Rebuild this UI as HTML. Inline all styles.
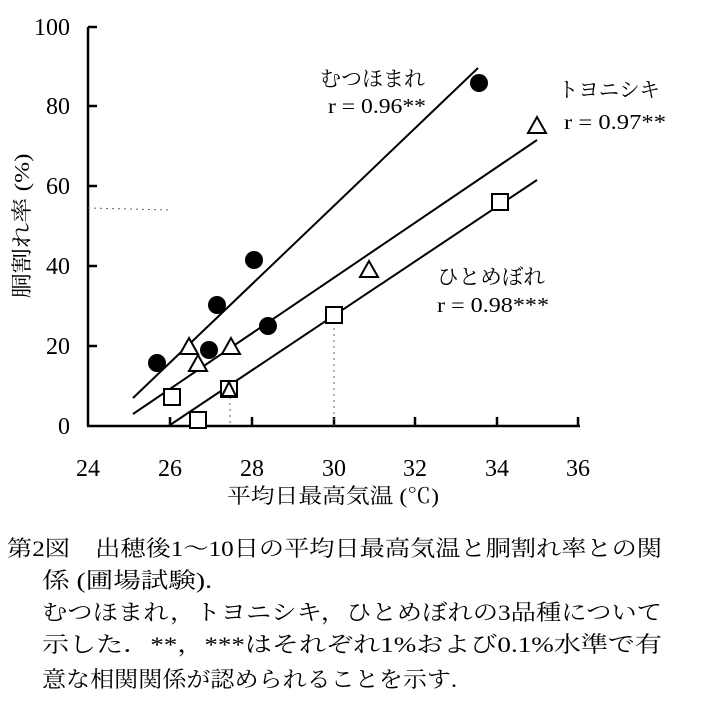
<!DOCTYPE html>
<html><head><meta charset="utf-8"><style>
html,body{margin:0;padding:0;background:#fff;}
svg{display:block;}
text{font-family:"Liberation Serif","Noto Serif CJK SC",serif;fill:#000;}
.j{font-family:"Liberation Serif","Noto Serif CJK JP","Noto Serif CJK SC",serif;}
</style></head><body>
<svg width="702" height="704" viewBox="0 0 702 704" xmlns="http://www.w3.org/2000/svg">
<g stroke="#000" stroke-width="2.5" fill="none">
<line x1="88" y1="27" x2="88" y2="426"/>
<line x1="87" y1="426" x2="580" y2="426"/>
<line x1="88" y1="346" x2="97" y2="346"/>
<line x1="88" y1="266" x2="97" y2="266"/>
<line x1="88" y1="186" x2="97" y2="186"/>
<line x1="88" y1="106" x2="97" y2="106"/>
<line x1="88" y1="27" x2="97" y2="27"/>
<line x1="170" y1="426" x2="170" y2="417"/>
<line x1="252" y1="426" x2="252" y2="417"/>
<line x1="334" y1="426" x2="334" y2="417"/>
<line x1="415" y1="426" x2="415" y2="417"/>
<line x1="497" y1="426" x2="497" y2="417"/>
<line x1="578" y1="426" x2="578" y2="417"/>
</g>
<g stroke="#000" stroke-width="2">
<line x1="133" y1="398" x2="478" y2="68"/>
<line x1="133" y1="414" x2="537" y2="140"/>
<line x1="170" y1="425" x2="537" y2="180"/>
</g>
<g stroke="#666" stroke-width="1" stroke-dasharray="2,4">
<line x1="334" y1="322" x2="334" y2="426"/>
<line x1="230" y1="397" x2="230" y2="426"/>
<line x1="88" y1="208" x2="170" y2="210"/>
</g>
<g fill="#000">
<circle cx="157" cy="363" r="9"/><circle cx="217" cy="305" r="9"/><circle cx="254" cy="260" r="9"/>
<circle cx="209" cy="350" r="9"/><circle cx="268" cy="326" r="9"/><circle cx="479" cy="83" r="9"/>
</g>
<g fill="#fff" stroke="#000" stroke-width="2">
<polygon points="189,338 180,354 198,354"/><polygon points="198,355 189,371 207,371"/>
<polygon points="231,338 222,354 240,354"/><polygon points="369,261 360,277 378,277"/>
<polygon points="537,117 528,133 546,133"/>
<rect x="164" y="389" width="16" height="16"/><rect x="190" y="412" width="16" height="16"/>
<rect x="221" y="381" width="16" height="16"/><rect x="326" y="307" width="16" height="16"/>
<rect x="492" y="194" width="16" height="16"/>
<polygon points="229,382 222,396 236,396"/>
</g>
<g font-size="24" text-anchor="middle">
<text x="88" y="476">24</text><text x="170" y="476">26</text><text x="252" y="476">28</text>
<text x="334" y="476">30</text><text x="415" y="476">32</text><text x="497" y="476">34</text><text x="578" y="476">36</text>
</g>
<g font-size="24" text-anchor="end">
<text x="70" y="434">0</text><text x="70" y="354">20</text><text x="70" y="274">40</text>
<text x="70" y="194">60</text><text x="70" y="114">80</text><text x="70" y="35">100</text>
</g>
<text class="j" x="333" y="503" font-size="21" text-anchor="middle" textLength="212" lengthAdjust="spacingAndGlyphs">平均日最高気温 (℃)</text>
<text class="j" transform="translate(29,226) rotate(-90)" font-size="21" text-anchor="middle" textLength="145" lengthAdjust="spacingAndGlyphs">胴割れ率 (%)</text>
<g font-size="21">
<text class="j" x="320" y="86" textLength="105" lengthAdjust="spacingAndGlyphs">むつほまれ</text>
<text x="328" y="113" textLength="98" lengthAdjust="spacingAndGlyphs">r = 0.96**</text>
<text class="j" x="558" y="97" textLength="102" lengthAdjust="spacingAndGlyphs">トヨニシキ</text>
<text x="564" y="129" textLength="102" lengthAdjust="spacingAndGlyphs">r = 0.97**</text>
<text class="j" x="437" y="284" textLength="108" lengthAdjust="spacingAndGlyphs">ひとめぼれ</text>
<text x="437" y="312" textLength="112" lengthAdjust="spacingAndGlyphs">r = 0.98***</text>
</g>
<g class="j" font-size="22">
<text class="j" x="7" y="556" textLength="655" lengthAdjust="spacingAndGlyphs">第2図　出穂後1～10日の平均日最高気温と胴割れ率との関</text>
<text class="j" x="42" y="588" textLength="170" lengthAdjust="spacingAndGlyphs">係 (圃場試験).</text>
<text class="j" x="42" y="620" textLength="620" lengthAdjust="spacingAndGlyphs">むつほまれ，トヨニシキ，ひとめぼれの3品種について</text>
<text class="j" x="42" y="652" textLength="620" lengthAdjust="spacingAndGlyphs">示した．**，***はそれぞれ1%および0.1%水準で有</text>
<text class="j" x="42" y="687" textLength="415" lengthAdjust="spacingAndGlyphs">意な相関関係が認められることを示す.</text>
</g>
</svg>
</body></html>
